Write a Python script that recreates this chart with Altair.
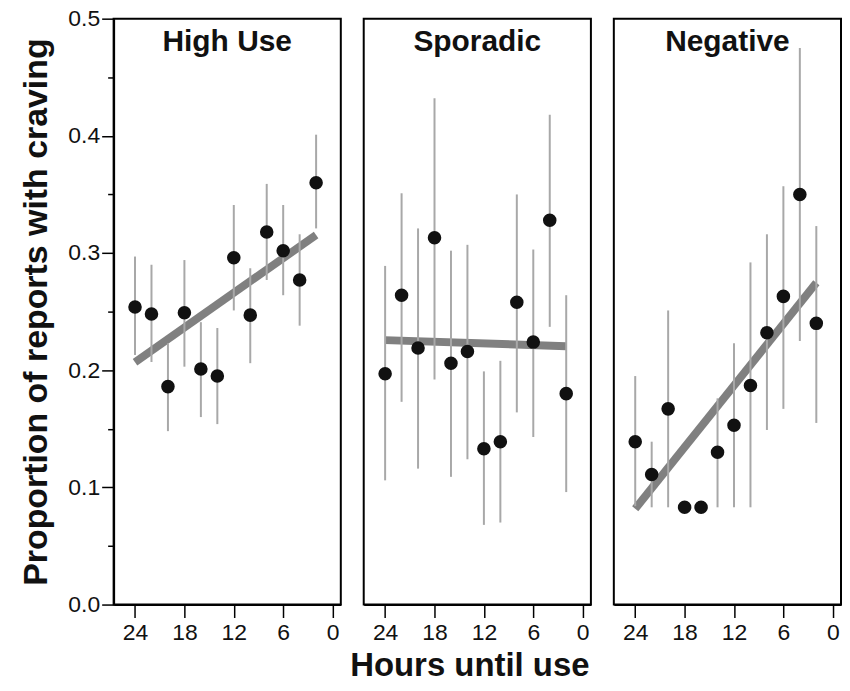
import altair as alt
import pandas as pd

# ---- data ----
hours = [24, 22, 20, 18, 16, 14, 12, 10, 8, 6, 4, 2]

panel_names = ["High Use", "Sporadic", "Negative"]

high_use = [0.254, 0.248, 0.186, 0.249, 0.201, 0.195, 0.296, 0.247, 0.318, 0.302, 0.277, 0.360]
high_use_lo = [0.213, 0.207, 0.148, 0.203, 0.160, 0.154, 0.251, 0.206, 0.277, 0.264, 0.238, 0.321]
high_use_hi = [0.297, 0.290, 0.223, 0.294, 0.241, 0.236, 0.341, 0.287, 0.359, 0.341, 0.316, 0.401]

sporadic = [0.197, 0.264, 0.219, 0.313, 0.206, 0.216, 0.133, 0.139, 0.258, 0.224, 0.328, 0.180]
sporadic_lo = [0.106, 0.173, 0.116, 0.192, 0.109, 0.124, 0.068, 0.070, 0.164, 0.143, 0.237, 0.096]
sporadic_hi = [0.289, 0.351, 0.321, 0.432, 0.302, 0.307, 0.199, 0.208, 0.350, 0.303, 0.418, 0.264]

negative = [0.139, 0.111, 0.167, 0.083, 0.083, 0.130, 0.153, 0.187, 0.232, 0.263, 0.350, 0.240]
negative_lo = [0.084, 0.083, 0.083, 0.083, 0.083, 0.083, 0.083, 0.083, 0.149, 0.167, 0.225, 0.155]
negative_hi = [0.195, 0.139, 0.251, 0.083, 0.083, 0.176, 0.223, 0.292, 0.316, 0.357, 0.475, 0.323]

x_ticks = [24, 21, 18, 15, 12, 9, 6, 3, 0]
y_ticks = [0.0, 0.05, 0.1, 0.15, 0.2, 0.25, 0.3, 0.35, 0.4, 0.45, 0.5]

FONT = "Liberation Sans"
X_DOMAIN = [26.6, -1.0]
Y_DOMAIN = [0, 0.5]
TITLE_X = 12.8      # centre of the x domain
TITLE_Y = 0.472     # just below the top of the y domain
PANEL_W = 228
PANEL_H = 588

series = [
    (high_use, high_use_lo, high_use_hi),
    (sporadic, sporadic_lo, sporadic_hi),
    (negative, negative_lo, negative_hi),
]


def make_panel(i):
    vals, lo, hi = series[i]
    df = pd.DataFrame({"hours": hours, "prop": vals, "lo": lo, "hi": hi})
    base = alt.Chart(df)

    x_axis_kw = dict(
        values=x_ticks,
        labelExpr="datum.value % 6 === 0 ? datum.label : ''",
        tickSize={"condition": {"test": "datum.value % 6 === 0", "value": 13}, "value": 7},
        tickColor="black",
        tickWidth=1.5,
        domainColor="black",
        domainWidth=2,
        labelFont=FONT,
        labelFontSize=23,
        labelColor="#111111",
        labelPadding=4,
        grid=False,
    )
    if i == 1:
        x_axis_kw.update(
            title="Hours until use",
            titleFont=FONT,
            titleFontSize=33,
            titleFontWeight="bold",
            titleColor="#111111",
            titlePadding=5,
            titleX=106,
        )
    else:
        x_axis_kw.update(title=None)
    x_scale = alt.Scale(domain=X_DOMAIN, nice=False, zero=False)
    y_scale = alt.Scale(domain=Y_DOMAIN, nice=False, zero=False)

    if i == 0:
        y_axis = alt.Axis(
            values=y_ticks,
            labelExpr="round(datum.value * 100) % 10 === 0 ? format(datum.value, '.1f') : ''",
            tickSize={"condition": {"test": "round(datum.value * 100) % 10 === 0", "value": 12}, "value": 6},
            tickColor="black",
            tickWidth=1.5,
            domainColor="black",
            domainWidth=2,
            labelFont=FONT,
            labelFontSize=23,
            labelColor="#111111",
            labelPadding=2,
            title="Proportion of reports with craving",
            titleFont=FONT,
            titleFontSize=34,
            titleFontWeight="bold",
            titleColor="#111111",
            titlePadding=14,
            grid=False,
        )
        y_enc = alt.Y("prop:Q", scale=y_scale, axis=y_axis)
    else:
        y_enc = alt.Y("prop:Q", scale=y_scale, axis=None)

    x_enc = alt.X("hours:Q", scale=x_scale, axis=alt.Axis(**x_axis_kw))

    fit = base.transform_regression("hours", "prop", extent=[2, 24]).mark_line(
        color="#808080", strokeWidth=8, strokeCap="butt"
    ).encode(x=x_enc, y=y_enc)

    bars = base.mark_rule(color="#a8a8a8", strokeWidth=2).encode(
        x="hours:Q", y="lo:Q", y2="hi:Q"
    )

    pts = base.mark_circle(size=185, color="#111111", opacity=1).encode(
        x="hours:Q", y="prop:Q"
    )

    label = alt.Chart(pd.DataFrame({"name": [panel_names[i]]})).mark_text(
        font=FONT, fontSize=30, fontWeight="bold", color="#111111",
        align="center", baseline="alphabetic"
    ).encode(x=alt.datum(TITLE_X), y=alt.datum(TITLE_Y), text="name:N")

    return alt.layer(fit, bars, pts, label).properties(width=PANEL_W, height=PANEL_H)


chart = alt.hconcat(
    *[make_panel(i) for i in range(3)], spacing=23, bounds="flush"
).configure_view(
    stroke="black", strokeWidth=2
).properties(
    padding={"left": 11, "top": -2.5, "right": 0, "bottom": -5}
)

chart.save("out.html", embed_options={"renderer": "svg", "actions": False})
